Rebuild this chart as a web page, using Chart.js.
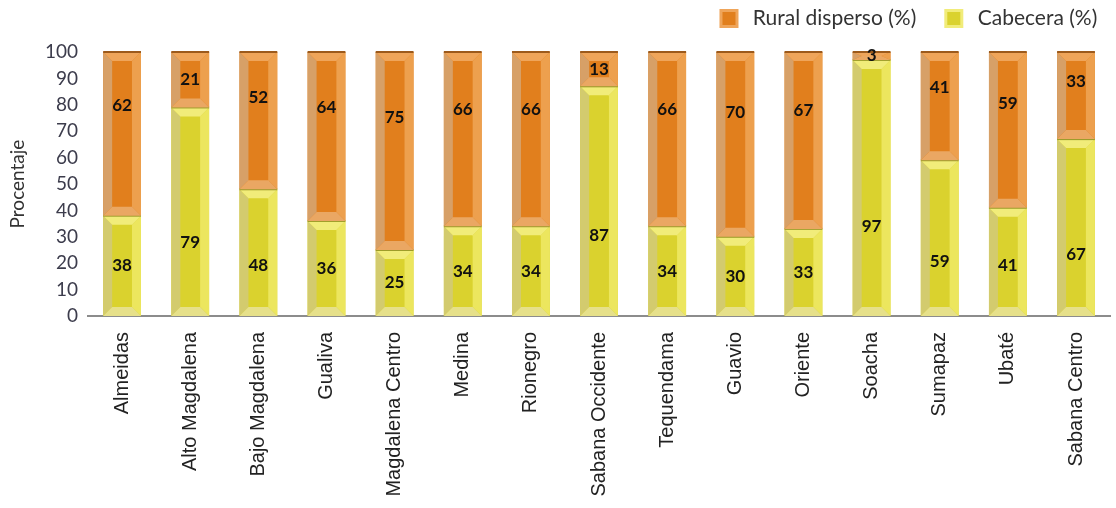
<!DOCTYPE html>
<html>
<head>
<meta charset="utf-8">
<script src="https://cdn.jsdelivr.net/npm/chart.js@4.4.1/dist/chart.umd.min.js"></script>
<style>
  body { margin: 0; background: #fff; }
  #wrap { width: 1116px; height: 508px; position: relative; }
</style>
</head>
<body>
<div id="wrap"><canvas id="provChart"></canvas></div>
<script>
const provincias = ["Almeidas", "Alto Magdalena", "Bajo Magdalena", "Gualiva", "Magdalena Centro", "Medina",
  "Rionegro", "Sabana Occidente", "Tequendama", "Guavio", "Oriente", "Soacha", "Sumapaz", "Ubaté", "Sabana Centro"];
const cabecera = [38, 79, 48, 36, 25, 34, 34, 87, 34, 30, 33, 97, 59, 41, 67];
const ruralDisperso = [62, 21, 52, 64, 75, 66, 66, 13, 66, 70, 67, 3, 41, 59, 33];

// bevel colours for each dataset (face, left, right, top, bottom, edge line)
const bevels = [
  { face: "#dad22e", left: "#d3cb6e", right: "#ece65e", top: "#f1ec7a", bottom: "#e6e08a", line: "#9e9c2a" },
  { face: "#e17f1d", left: "#d7a067", right: "#eda04e", top: "#efa55a", bottom: "#eaa763", line: "#9c5a1c" }
];

function poly(ctx, pts, color) {
  ctx.beginPath();
  ctx.moveTo(pts[0][0], pts[0][1]);
  for (let i = 1; i < pts.length; i++) ctx.lineTo(pts[i][0], pts[i][1]);
  ctx.closePath();
  ctx.fillStyle = color;
  ctx.fill();
}

const bevelBars = {
  id: "bevelBars",
  afterDatasetsDraw(chart) {
    const ctx = chart.ctx;
    ctx.save();
    chart.data.datasets.forEach((ds, di) => {
      const c = bevels[di];
      chart.getDatasetMeta(di).data.forEach(bar => {
        const p = bar.getProps(["x", "y", "base", "width"], true);
        const l = p.x - p.width / 2, r = p.x + p.width / 2;
        const t = Math.min(p.y, p.base), b = Math.max(p.y, p.base);
        const h = b - t;
        const dv = Math.min(9, h / 2), dh = 9;
        poly(ctx, [[l, t], [l + dh, t + dv], [l + dh, b - dv], [l, b]], c.left);
        poly(ctx, [[r, t], [r - dh, t + dv], [r - dh, b - dv], [r, b]], c.right);
        poly(ctx, [[l, t], [r, t], [r - dh, t + dv], [l + dh, t + dv]], c.top);
        poly(ctx, [[l, b], [r, b], [r - dh, b - dv], [l + dh, b - dv]], c.bottom);
        ctx.fillStyle = c.line;
        ctx.fillRect(l, t - 1, p.width, 2);
      });
    });
    ctx.restore();
  }
};

// value labels inside each segment
const valueLabels = {
  id: "valueLabels",
  afterDatasetsDraw(chart) {
    const ctx = chart.ctx;
    ctx.save();
    ctx.font = "bold 17px Lato";
    ctx.fillStyle = "#111";
    ctx.textAlign = "center";
    ctx.textBaseline = "middle";
    chart.data.datasets.forEach((ds, di) => {
      chart.getDatasetMeta(di).data.forEach((bar, i) => {
        const p = bar.getProps(["x", "y", "base"], true);
        const t = Math.min(p.y, p.base), b = Math.max(p.y, p.base);
        const h = b - t;
        let y;
        if (di === 0) y = b - Math.min(h / 2, Math.max(50, 0.35 * h));
        else y = t + Math.max(0.33 * h, Math.min(h / 2, 30));
        ctx.fillText(ds.data[i], p.x, y);
      });
    });
    ctx.restore();
  }
};

// leave some room between the legend row and the plot
const legendGap = {
  id: "legendGap",
  afterInit(chart) {
    const lg = chart.legend;
    const fit = lg.fit;
    lg.fit = function () {
      fit.call(this);
      this.height += 13;
    };
  }
};

new Chart(document.getElementById("provChart"), {
  type: "bar",
  data: {
    labels: provincias,
    datasets: [
      { label: "Cabecera (%)", data: cabecera, backgroundColor: bevels[0].face, borderWidth: 0 },
      { label: "Rural disperso (%)", data: ruralDisperso, backgroundColor: bevels[1].face, borderWidth: 0 }
    ]
  },
  options: {
    responsive: true,
    maintainAspectRatio: false,
    animation: false,
    layout: { padding: 0 },
    datasets: { bar: { categoryPercentage: 1, barPercentage: 0.555 } },
    plugins: {
      tooltip: { enabled: false },
      legend: {
        position: "top",
        align: "end",
        reverse: true,
        labels: {
          font: { family: "Lato", size: 21 },
          color: "#333",
          boxWidth: 16,
          boxHeight: 16,
          padding: 8,
          generateLabels(chart) {
            const items = Chart.defaults.plugins.legend.labels.generateLabels(chart);
            items.forEach(it => {
              it.text = it.datasetIndex === 1 ? " " + it.text + "    " : " " + it.text + "  ";
              it.strokeStyle = bevels[it.datasetIndex].top;
              it.lineWidth = 3;
            });
            return items;
          }
        }
      }
    },
    scales: {
      x: {
        stacked: true,
        grid: { display: false, drawTicks: false },
        border: { display: true, color: "#8c8c8c", width: 2 },
        ticks: {
          minRotation: 90, maxRotation: 90, padding: 16,
          color: "#222",
          font: { family: "Liberation Sans", size: 20 }
        },
        afterFit(s) { s.height = 192; }
      },
      y: {
        stacked: true,
        min: 0, max: 100,
        grid: { display: false, drawTicks: false },
        border: { display: false },
        ticks: { stepSize: 10, padding: 10, color: "#3c3c4c", font: { family: "Lato", size: 19 } },
        title: {
          display: true, text: "Procentaje", color: "#333",
          font: { family: "Lato", size: 19 },
          padding: { top: 6, bottom: 0 }
        },
        afterFit(s) { s.width = 88; }
      }
    }
  },
  plugins: [legendGap, bevelBars, valueLabels]
});
</script>
</body>
</html>
